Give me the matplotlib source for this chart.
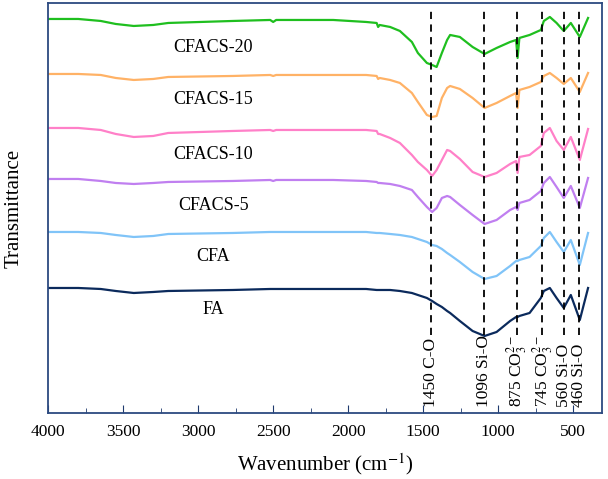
import numpy as np
import matplotlib
matplotlib.use("Agg")
import matplotlib.pyplot as plt
from matplotlib.ticker import MultipleLocator

plt.rcParams['font.family'] = ['Liberation Serif', 'DejaVu Serif']
plt.rcParams['mathtext.fontset'] = 'stix'

# wavenumber grid (cm-1) shared by all spectra
wn = [4000, 3800, 3650, 3550, 3430, 3300, 3200, 2770, 2520, 2500, 2480, 2100, 1880, 1810, 1800, 1790,
      1720, 1655, 1575, 1535, 1475, 1440, 1410, 1375, 1340, 1320, 1255, 1170, 1090, 1010, 920,
      880, 870, 858, 790, 715, 695, 655, 610, 562, 515, 455, 400]

# readings taken as depth below the top of the frame
cfacs20 = [19, 19, 21, 24, 26, 25, 23, 21, 20, 22, 20, 20, 22, 23, 27, 25,
           27, 31, 42, 53, 63, 65, 67, 53, 40, 35, 37, 47, 54, 48, 42,
           40, 58, 38, 35, 30, 21, 17, 23, 31, 23, 37, 18]
cfacs15 = [74, 74, 75, 78, 80, 79, 77, 76, 75, 76, 75, 75, 75, 76, 79, 78,
           80, 83, 93, 102, 115, 117, 116, 98, 88, 86, 89, 98, 108, 103, 96,
           93, 108, 90, 87, 82, 76, 73, 78, 84, 78, 92, 73]
cfacs10 = [128, 128, 130, 134, 137, 136, 133, 131, 130, 131, 130, 130, 130, 131, 134, 134,
           138, 143, 155, 162, 170, 176, 170, 160, 150, 151, 159, 172, 177, 173, 164,
           161, 173, 157, 155, 146, 133, 128, 141, 150, 137, 160, 129]
cfacs5 = [179, 179, 181, 183, 184, 183, 182, 181, 180, 181, 180, 180, 181, 182, 183, 183,
          184, 186, 190, 197, 207, 212, 208, 198, 196, 197, 205, 215, 224, 220, 210,
          207, 210, 203, 200, 191, 183, 177, 187, 198, 186, 208, 178]
cfa = [232, 232, 233, 235, 237, 236, 234, 233, 232, 232, 232, 232, 232, 233, 233, 233,
       234, 235, 237, 239, 242, 245, 246, 249, 253, 255, 262, 272, 279, 276, 266,
       261, 261, 260, 257, 246, 238, 232, 242, 252, 240, 265, 233]
fa = [288, 288, 289, 291, 293, 292, 291, 290, 289, 289, 289, 289, 289, 290, 290, 290,
      290, 291, 293, 295, 298, 301, 304, 307, 311, 313, 321, 331, 336, 332, 321,
      317, 317, 316, 313, 298, 291, 288, 298, 308, 295, 320, 288]

names = ['CFACS-20', 'CFACS-15', 'CFACS-10', 'CFACS-5', 'CFA', 'FA']
colors = ['#1fbf1f', '#ffb266', '#ff80c8', '#c07ff0', '#80c4f8', '#0b2a5c']
label_y = [365, 313, 258, 207, 156, 103]

peaks = [1450, 1096, 875, 705, 560, 460]
peak_labels = ['1450 C-O', '1096 Si-O', r'875 CO$_3^{2-}$', r'745 CO$_3^{2-}$', '560 Si-O', '460 Si-O']

fig = plt.figure(figsize=(6.08, 4.79), dpi=100)
ax = fig.add_axes([0.0794, 0.1378, 0.910, 0.856])

top = 413
for s, c in zip([cfacs20, cfacs15, cfacs10, cfacs5, cfa, fa], colors):
    ax.plot(wn, top - np.array(s), color=c, lw=1.6)

for n, y in zip(names, label_y):
    ax.text(2900, y, n, ha='center', va='center', fontsize=13)

for p, lab in zip(peaks, peak_labels):
    ax.axvline(p, ymin=0.19, ymax=0.985, color='black', ls=(0, (4, 3)), lw=1.3)
    ax.text(p, 6, lab, rotation=90, ha='center', va='bottom', fontsize=12.5)

ax.set_xlim(4000, 310)
ax.set_ylim(0, 410)
ax.set_yticks([])
ax.xaxis.set_major_locator(MultipleLocator(500))
ax.xaxis.set_minor_locator(MultipleLocator(250))
ax.tick_params(axis='x', which='major', direction='in', length=6, pad=8,
               labelsize=12.5, color='#1f3a6e')
ax.tick_params(axis='x', which='minor', direction='in', length=3.5, color='#1f3a6e')
for sp in ax.spines.values():
    sp.set_color('#2c4a80')
    sp.set_linewidth(1.3)

ax.set_xlabel('Wavenumber (cm$^{-1}$)', fontsize=15, labelpad=8)
ax.set_ylabel('Transmittance', fontsize=15)
ax.yaxis.set_label_coords(-0.045, 0.5)

fig.savefig('out.png', dpi=100)
